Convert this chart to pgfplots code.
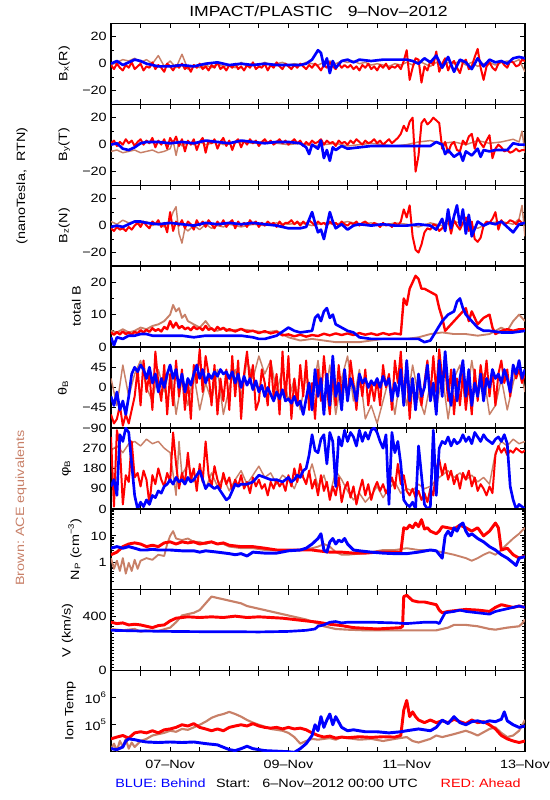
\documentclass[border=0pt]{standalone}
\usepackage{fontspec}
\setmainfont{Liberation Sans}[FakeStretch=1.2]
\usepackage{pgfplots}
\pgfplotsset{compat=1.18}
\definecolor{acebrown}{RGB}{200,128,104}
\tikzset{
 ace/.style={color=acebrown, line width=1.1pt, line join=round},
 ahead/.style={color=red, line width=1.5pt, line join=round},
 behind/.style={color=blue, line width=2pt, line join=round}
}
\pgfplotsset{
 yl/.style={ylabel style={at={(axis description cs:#1,0.5)}, anchor=center}},
 panel/.style={
   scale only axis, width=310.5pt, height=60.71pt, anchor=south west,
   xmin=0, xmax=7, xtick={0,0.5,...,7}, xticklabels={},
   tick align=inside, tick pos=both,
   axis line style={line width=0.9pt},
   every tick/.style={black, line width=0.7pt},
   major tick length=3.75pt, minor tick length=2.25pt,
   ylabel style={font=\fontsize{9}{10}\selectfont, inner sep=1pt},
   yticklabel style={font=\fontsize{9}{10}\selectfont},
   xticklabel style={font=\fontsize{9}{10}\selectfont, yshift=-3pt},
   /pgf/number format/assume math mode=true,
   clip=true
 }
}
\begin{document}
\begin{tikzpicture}
\useasboundingbox (0,0) rectangle (412.5pt,600pt);
\fontsize{9}{10}\selectfont
% ---------- Bx
\begin{axis}[panel, at={(83.25pt,521.87pt)}, ymin=-30, ymax=30,
 ytick={-20,0,20}, yticklabels={−20,0,20}, minor ytick={-10,10},
 ylabel={B\textsubscript{x}(R)}, yl=-0.113]
\addplot[ace] coordinates {(0,-1)(0.1,1)(0.2,3)(0.3,2)(0.4,4)(0.5,1)(0.6,3)(0.7,0)(0.8,6)(0.9,-2)(1,2)(1.1,-3)(1.2,7)(1.3,-4)(1.4,-1)(1.5,-3)(1.6,-1)(1.7,-3)(1.8,0)(1.9,-2)(2,-1)(2.1,-3)(2.2,1)(2.3,-2)(2.4,0)(2.5,-1)(2.6,1)(2.7,-1)(2.8,0)(2.9,1)(3,-1)(3.1,0)(3.2,-1)(3.3,1)(3.4,0)(3.5,-1)(3.6,1)(3.7,2)(3.8,0)(3.9,2)(4,1)(4.1,2)(4.2,0)(4.3,1)(4.4,-1)(4.5,0)(4.6,-1)(4.7,-2)(4.8,0)(4.9,-1)(5,1)(5.1,-1)(5.2,2)(5.3,0)(5.4,-2)(5.5,1)(5.6,-2)(5.7,1)(5.8,0)(5.9,2)(6,-1)(6.1,1)(6.2,-2)(6.3,0)(6.4,1)(6.5,-1)(6.6,1)(6.7,2)(6.8,1)(6.9,3)(7,-6)};
\addplot[ahead] coordinates {(0,-1)(0.05,-4)(0.1,0)(0.15,-3)(0.2,-5)(0.25,-1)(0.3,-3)(0.35,1)(0.4,-4)(0.45,-2)(0.5,0)(0.55,-5)(0.6,-2)(0.65,-3)(0.7,1)(0.75,-4)(0.8,-1)(0.85,-3)(0.9,-6)(0.95,0)(1,-2)(1.05,-5)(1.1,-1)(1.15,-3)(1.2,0)(1.25,-4)(1.3,-2)(1.35,-6)(1.4,-1)(1.45,-3)(1.5,0)(1.55,-4)(1.6,-2)(1.65,-5)(1.7,-1)(1.75,-3)(1.8,1)(1.85,-4)(1.9,-2)(1.95,-5)(2,-1)(2.05,-3)(2.1,0)(2.15,-4)(2.2,-2)(2.25,-5)(2.3,-1)(2.35,-3)(2.4,1)(2.45,-4)(2.5,-2)(2.55,-3)(2.6,0)(2.65,-5)(2.7,-1)(2.75,-3)(2.8,1)(2.85,-2)(2.9,-4)(2.95,0)(3,-2)(3.05,-4)(3.1,-1)(3.15,-3)(3.2,0)(3.25,-2)(3.3,-4)(3.35,-1)(3.4,-3)(3.45,0)(3.5,-2)(3.55,-5)(3.6,-1)(3.65,-3)(3.7,1)(3.75,-2)(3.8,-4)(3.85,0)(3.9,-3)(3.95,-1)(4,-3)(4.05,-1)(4.1,-4)(4.15,-2)(4.2,-5)(4.25,-1)(4.3,-3)(4.35,0)(4.4,-4)(4.45,-2)(4.5,-5)(4.55,-1)(4.6,-3)(4.65,0)(4.7,-4)(4.75,-2)(4.8,-3)(4.85,-1)(4.9,-4)(4.95,2)(5,10)(5.05,-12)(5.1,-3)(5.15,4)(5.2,3)(5.25,-14)(5.3,-2)(5.35,-5)(5.4,2)(5.45,-1)(5.5,9)(5.55,-6)(5.6,0)(5.65,4)(5.7,-5)(5.75,0)(5.8,2)(5.85,-3)(5.9,-7)(5.95,1)(6,3)(6.05,-4)(6.1,-2)(6.15,5)(6.2,11)(6.25,-3)(6.3,-12)(6.35,-2)(6.4,1)(6.45,-3)(6.5,-5)(6.55,0)(6.6,2)(6.65,-1)(6.7,-3)(6.75,2)(6.8,1)(6.85,-2)(6.9,-1)(6.95,3)(7,2)};
\addplot[behind] coordinates {(0,0)(0.1,2)(0.2,-1)(0.3,1)(0.4,3)(0.5,2)(0.6,0)(0.7,-1)(0.8,-2)(0.9,-2)(1,-2)(1.2,-1)(1.4,-2)(1.6,0)(1.8,1)(2,-1)(2.2,0)(2.4,-1)(2.6,0)(2.8,-1)(3,-1)(3.2,-1)(3.3,0)(3.4,3)(3.5,10)(3.55,8)(3.6,-2)(3.65,4)(3.7,-7)(3.75,2)(3.8,-3)(3.9,2)(4,3)(4.1,1)(4.2,3)(4.4,2)(4.6,3)(4.8,3)(5,3)(5.1,2)(5.2,0)(5.3,4)(5.4,1)(5.5,6)(5.6,-3)(5.7,5)(5.8,-6)(5.9,3)(6,1)(6.1,-4)(6.2,4)(6.3,-2)(6.4,3)(6.5,1)(6.6,2)(6.7,0)(6.8,4)(6.9,5)(7,4)};
\end{axis}
% ---------- By
\begin{axis}[panel, at={(83.25pt,461.16pt)}, ymin=-30, ymax=30,
 ytick={-20,0,20}, yticklabels={−20,0,20}, minor ytick={-10,10},
 ylabel={B\textsubscript{y}(T)}, yl=-0.113]
\addplot[ace] coordinates {(0,-5)(0.1,-4)(0.2,-6)(0.3,-5)(0.4,-4)(0.5,-6)(0.6,-5)(0.7,-4)(0.8,-6)(0.9,-5)(1,-3)(1.05,3)(1.1,-8)(1.15,2)(1.2,-1)(1.3,2)(1.4,0)(1.5,2)(1.6,0)(1.7,1)(1.8,2)(1.9,0)(2,1)(2.2,2)(2.4,1)(2.6,2)(2.8,1)(3,0)(3.2,1)(3.4,-1)(3.6,0)(3.8,1)(4,-1)(4.2,0)(4.4,1)(4.6,0)(4.8,-1)(5,0)(5.2,2)(5.4,3)(5.6,1)(5.8,2)(6,0)(6.2,3)(6.4,1)(6.6,2)(6.8,4)(6.9,2)(6.95,10)(7,-6)};
\addplot[ahead] coordinates {(0,1)(0.05,3)(0.1,-1)(0.15,2)(0.2,0)(0.25,4)(0.3,1)(0.35,3)(0.4,-1)(0.45,2)(0.5,4)(0.55,0)(0.6,3)(0.65,1)(0.7,5)(0.75,-2)(0.8,3)(0.85,0)(0.9,4)(0.95,-3)(1,5)(1.05,1)(1.1,6)(1.15,-1)(1.2,4)(1.25,-5)(1.3,3)(1.35,0)(1.4,4)(1.45,-4)(1.5,2)(1.55,5)(1.6,-6)(1.65,3)(1.7,1)(1.75,4)(1.8,-3)(1.85,2)(1.9,5)(1.95,-1)(2,3)(2.05,-4)(2.1,2)(2.15,4)(2.2,-2)(2.25,3)(2.3,0)(2.35,4)(2.4,1)(2.45,3)(2.5,-1)(2.55,2)(2.6,4)(2.65,1)(2.7,3)(2.75,0)(2.8,2)(2.85,4)(2.9,1)(2.95,3)(3,0)(3.05,2)(3.1,4)(3.15,1)(3.2,3)(3.25,-1)(3.3,2)(3.35,0)(3.4,3)(3.45,1)(3.5,2)(3.55,4)(3.6,0)(3.65,3)(3.7,1)(3.75,2)(3.8,-1)(3.85,3)(3.9,1)(3.95,2)(4,0)(4.05,3)(4.1,1)(4.15,4)(4.2,2)(4.25,0)(4.3,3)(4.35,1)(4.4,2)(4.45,4)(4.5,1)(4.55,3)(4.6,0)(4.65,2)(4.7,4)(4.75,1)(4.8,3)(4.85,5)(4.9,8)(4.95,14)(5,10)(5.05,17)(5.1,20)(5.15,-20)(5.2,-8)(5.25,16)(5.3,19)(5.35,15)(5.4,17)(5.45,20)(5.5,18)(5.55,16)(5.6,-3)(5.65,2)(5.7,-6)(5.75,0)(5.8,2)(5.85,-4)(5.9,-5)(5.95,3)(6,0)(6.05,6)(6.1,8)(6.15,-3)(6.2,5)(6.25,1)(6.3,-2)(6.35,3)(6.4,7)(6.45,-10)(6.5,-3)(6.55,0)(6.6,-2)(6.65,-5)(6.7,-4)(6.75,-6)(6.8,-5)(6.85,-3)(6.9,-5)(6.95,-4)(7,-4)};
\addplot[behind] coordinates {(0,0)(0.1,1)(0.2,-3)(0.3,-4)(0.4,-2)(0.5,1)(0.6,2)(0.8,2)(1,1)(1.2,2)(1.4,1)(1.6,3)(1.8,2)(2,1)(2.2,3)(2.4,2)(2.6,1)(2.8,2)(3,2)(3.2,1)(3.3,-2)(3.35,-7)(3.4,0)(3.5,-3)(3.55,3)(3.6,-10)(3.65,-4)(3.7,-12)(3.75,-2)(3.8,-4)(3.9,-1)(4,-3)(4.2,-2)(4.4,-1)(4.6,-1)(4.8,-1)(5,-1)(5.2,-1)(5.4,-1)(5.5,2)(5.6,0)(5.65,-7)(5.7,-4)(5.8,-9)(5.9,-6)(5.95,-12)(6,-5)(6.1,-8)(6.2,-3)(6.25,-9)(6.3,-4)(6.4,-5)(6.5,-4)(6.6,-4)(6.7,-4)(6.8,1)(6.9,0)(7,0)};
\end{axis}
% ---------- Bz
\begin{axis}[panel, at={(83.25pt,400.45pt)}, ymin=-30, ymax=30,
 ytick={-20,0,20}, yticklabels={−20,0,20}, minor ytick={-10,10},
 ylabel={B\textsubscript{z}(N)}, yl=-0.113]
\addplot[ace] coordinates {(0,3)(0.1,1)(0.2,4)(0.3,2)(0.4,3)(0.5,1)(0.6,3)(0.7,0)(0.8,2)(0.9,-1)(1,4)(1.05,10)(1.1,14)(1.15,-6)(1.2,-13)(1.25,-2)(1.3,-4)(1.4,0)(1.5,-3)(1.6,1)(1.7,-2)(1.8,0)(1.9,-1)(2,1)(2.2,-1)(2.4,1)(2.6,0)(2.8,2)(3,1)(3.2,2)(3.4,0)(3.6,2)(3.8,1)(4,3)(4.2,1)(4.4,2)(4.6,0)(4.8,2)(5,1)(5.2,-1)(5.4,2)(5.6,0)(5.8,3)(6,1)(6.2,-2)(6.4,2)(6.6,3)(6.8,1)(6.9,5)(6.95,15)(7,-8)};
\addplot[ahead] coordinates {(0,-2)(0.05,-4)(0.1,-1)(0.15,-3)(0.2,-2)(0.25,-4)(0.3,-1)(0.35,-3)(0.4,0)(0.45,2)(0.5,-1)(0.55,3)(0.6,0)(0.65,-2)(0.7,3)(0.75,1)(0.8,4)(0.85,-1)(0.9,2)(0.95,-5)(1,10)(1.05,-4)(1.1,3)(1.15,0)(1.2,4)(1.25,-2)(1.3,3)(1.35,1)(1.4,-3)(1.45,4)(1.5,0)(1.55,3)(1.6,-1)(1.65,4)(1.7,1)(1.75,-2)(1.8,3)(1.85,0)(1.9,4)(1.95,-1)(2,2)(2.05,4)(2.1,-2)(2.15,3)(2.2,0)(2.25,2)(2.3,-1)(2.35,4)(2.4,1)(2.45,3)(2.5,-1)(2.55,2)(2.6,0)(2.65,3)(2.7,1)(2.75,2)(2.8,-1)(2.85,3)(2.9,0)(2.95,2)(3,2)(3.05,4)(3.1,1)(3.15,3)(3.2,0)(3.25,3)(3.3,1)(3.35,4)(3.4,2)(3.45,0)(3.5,3)(3.55,1)(3.6,2)(3.65,0)(3.7,3)(3.75,1)(3.8,2)(3.85,0)(3.9,3)(3.95,1)(4,0)(4.05,2)(4.1,1)(4.15,3)(4.2,0)(4.25,2)(4.3,3)(4.35,1)(4.4,0)(4.45,2)(4.5,1)(4.55,-1)(4.6,2)(4.65,0)(4.7,1)(4.75,-1)(4.8,2)(4.85,0)(4.9,3)(4.95,12)(5,6)(5.05,15)(5.1,-8)(5.15,-18)(5.2,-20)(5.25,-14)(5.3,-5)(5.35,-2)(5.4,-3)(5.45,1)(5.5,0)(5.55,-4)(5.6,-2)(5.65,2)(5.7,5)(5.75,-6)(5.8,4)(5.85,0)(5.9,-3)(5.95,2)(6,6)(6.05,-4)(6.1,3)(6.15,-10)(6.2,-12)(6.25,-9)(6.3,0)(6.35,3)(6.4,2)(6.45,5)(6.5,10)(6.55,-3)(6.6,4)(6.65,1)(6.7,2)(6.75,4)(6.8,3)(6.85,1)(6.9,4)(6.95,2)(7,2)};
\addplot[behind] coordinates {(0,-1)(0.1,0)(0.2,-1)(0.3,1)(0.4,3)(0.5,3)(0.6,2)(0.8,1)(1,2)(1.2,1)(1.4,0)(1.6,2)(1.8,1)(2,2)(2.2,1)(2.4,2)(2.6,1)(2.8,0)(3,-2)(3.2,-2)(3.3,-1)(3.4,10)(3.45,2)(3.5,-5)(3.55,-3)(3.6,-10)(3.65,0)(3.7,10)(3.75,3)(3.8,-2)(3.9,1)(4,-3)(4.1,0)(4.2,1)(4.4,0)(4.6,1)(4.8,0)(5,0)(5.2,1)(5.4,0)(5.5,-3)(5.6,5)(5.65,-4)(5.7,12)(5.75,-2)(5.8,7)(5.85,15)(5.9,0)(5.95,12)(6,-6)(6.05,8)(6.1,-8)(6.2,3)(6.3,0)(6.4,2)(6.5,1)(6.6,3)(6.7,-1)(6.8,-5)(6.9,1)(7,2)};
\end{axis}
% ---------- total B
\begin{axis}[panel, at={(83.25pt,339.74pt)}, ymin=0, ymax=25,
 ytick={0,10,20}, yticklabels={0,10,20}, minor ytick={5,15},
 ylabel={total B}, yl=-0.084]
\addplot[ace, line width=1.4pt] coordinates {(0,5)(0.1,4.5)(0.2,5.5)(0.3,4.5)(0.4,5)(0.5,6)(0.6,5.5)(0.7,6.5)(0.8,7)(0.9,8)(1,10)(1.05,13)(1.1,11)(1.15,12)(1.2,9)(1.25,10)(1.3,8)(1.4,7)(1.5,6)(1.6,8)(1.7,5.5)(1.8,5)(1.9,6)(2,5)(2.2,5.5)(2.4,5)(2.6,4.5)(2.8,5)(3,3)(3.2,2)(3.4,2.5)(3.6,2)(3.8,1.5)(4,1.5)(4.2,1.5)(4.4,2)(4.6,2.5)(4.8,2.5)(5,2.5)(5.2,3)(5.4,4)(5.6,4.5)(5.8,4)(6,4)(6.2,3.5)(6.4,4)(6.6,6)(6.7,5)(6.8,8)(6.9,10)(7,8)};
\addplot[ahead, line width=1.8pt] coordinates {(0,4.5)(0.05,3.8)(0.1,4.6)(0.15,3.9)(0.2,4.8)(0.25,4)(0.3,4.5)(0.35,3.8)(0.4,4.7)(0.45,4.2)(0.5,5.2)(0.55,4.5)(0.6,5.3)(0.65,4.7)(0.7,5.8)(0.75,5)(0.8,5.5)(0.85,4.8)(0.9,6.2)(0.95,5.5)(1,8)(1.05,6)(1.1,7.5)(1.15,5.8)(1.2,6.5)(1.25,5.5)(1.3,6)(1.35,5.2)(1.4,6.3)(1.45,5.5)(1.5,6)(1.55,5.2)(1.6,6.5)(1.65,5.3)(1.7,5.8)(1.75,5)(1.8,6.2)(1.85,5.4)(1.9,5.9)(1.95,5)(2,5.5)(2.1,4.8)(2.2,5.6)(2.3,4.7)(2.4,5)(2.5,4.3)(2.6,4.9)(2.7,4.2)(2.8,4.7)(2.9,3.6)(3,3.9)(3.1,3.3)(3.2,3.8)(3.3,3.2)(3.4,3.7)(3.5,3.4)(3.6,4.1)(3.7,3.6)(3.8,4.2)(3.9,3.7)(4,4.2)(4.1,3.7)(4.2,4.3)(4.3,3.8)(4.4,4.2)(4.5,3.7)(4.6,4.3)(4.7,3.8)(4.8,4.2)(4.9,3.9)(4.95,15)(5,13)(5.05,18)(5.1,20)(5.15,22)(5.2,21)(5.25,18)(5.3,18)(5.4,17)(5.5,16)(5.55,12)(5.6,9)(5.65,5)(5.7,6)(5.8,8)(5.9,10)(6,12)(6.05,8)(6.1,11)(6.2,7)(6.3,9)(6.4,10)(6.45,6)(6.5,4)(6.6,5)(6.7,5.5)(6.8,5)(6.9,5.5)(7,5.5)};
\addplot[behind] coordinates {(0,3)(0.05,0.5)(0.1,3)(0.2,2.5)(0.3,3.5)(0.4,3.5)(0.5,4)(0.6,4)(0.7,3.5)(0.8,3.5)(1,3.5)(1.2,3.5)(1.4,3)(1.6,3.5)(1.8,3.5)(2,3.5)(2.2,3.5)(2.4,3)(2.5,2.5)(2.6,2.5)(2.8,3.5)(3,6)(3.1,5)(3.2,4.5)(3.4,5)(3.45,9)(3.5,10)(3.55,8)(3.6,11)(3.65,12)(3.7,9)(3.75,10)(3.8,7)(3.9,6)(4,5)(4.1,4.5)(4.2,3)(4.4,2.5)(4.6,2.5)(4.8,2.5)(5,2.5)(5.2,2.5)(5.3,1.5)(5.4,2)(5.5,5)(5.6,8)(5.7,10)(5.8,11)(5.85,14)(5.9,15)(5.95,12)(6,10)(6.1,8)(6.2,6)(6.3,5)(6.4,5)(6.6,4.5)(6.8,4.5)(7,5)};
\end{axis}
% ---------- theta
\begin{axis}[panel, at={(83.25pt,279.03pt)}, ymin=-90, ymax=90,
 ytick={-90,-45,0,45,90}, yticklabels={−90,−45,0,45,}, minor ytick={},
 ylabel={θ\textsubscript{B}}, yl=-0.116]
\addplot[ace] coordinates {(0,20)(0.1,-40)(0.2,50)(0.3,-20)(0.4,30)(0.5,60)(0.6,0)(0.7,-30)(0.8,40)(0.9,-10)(1,50)(1.1,-60)(1.2,20)(1.3,-40)(1.4,30)(1.5,-50)(1.6,10)(1.7,-30)(1.8,40)(1.9,-60)(2,0)(2.1,40)(2.2,-20)(2.3,60)(2.4,20)(2.5,70)(2.6,30)(2.7,60)(2.8,-10)(2.9,40)(3,-30)(3.1,20)(3.2,-50)(3.3,30)(3.4,-20)(3.5,60)(3.6,-40)(3.7,50)(3.8,-60)(3.9,20)(4,70)(4.1,-30)(4.2,40)(4.3,-70)(4.4,-40)(4.5,-80)(4.6,-30)(4.7,20)(4.8,-60)(4.9,30)(5,-40)(5.1,50)(5.2,-20)(5.3,-60)(5.4,10)(5.5,-50)(5.6,30)(5.7,-70)(5.8,20)(5.9,50)(6,-40)(6.1,60)(6.2,-20)(6.3,30)(6.4,-60)(6.5,-40)(6.6,20)(6.7,-50)(6.8,10)(6.9,60)(7,-10)};
\addplot[ahead] coordinates {(0,-60)(0.05,-80)(0.1,-70)(0.15,-40)(0.2,-85)(0.25,-60)(0.3,-80)(0.35,-50)(0.4,-20)(0.45,40)(0.5,-40)(0.55,60)(0.6,-10)(0.65,30)(0.7,-50)(0.75,80)(0.8,10)(0.85,-30)(0.9,50)(0.95,-60)(1,30)(1.05,-40)(1.1,60)(1.15,-20)(1.2,40)(1.25,-50)(1.3,20)(1.35,-70)(1.4,50)(1.45,10)(1.5,85)(1.55,-10)(1.6,70)(1.65,30)(1.7,-40)(1.75,50)(1.8,-60)(1.85,20)(1.9,-30)(1.95,40)(2,-50)(2.05,70)(2.1,-20)(2.15,60)(2.2,-70)(2.25,30)(2.3,80)(2.35,10)(2.4,50)(2.45,-50)(2.5,-30)(2.55,40)(2.6,10)(2.65,-40)(2.7,60)(2.75,-20)(2.8,30)(2.85,-60)(2.9,80)(2.95,-30)(3,70)(3.05,-70)(3.1,20)(3.15,-40)(3.2,50)(3.25,-20)(3.3,60)(3.35,-50)(3.4,10)(3.45,-70)(3.5,40)(3.55,-30)(3.6,70)(3.65,0)(3.7,-60)(3.75,30)(3.8,-40)(3.85,50)(3.9,-20)(3.95,40)(4,-30)(4.05,60)(4.1,10)(4.15,-50)(4.2,30)(4.25,-20)(4.3,40)(4.35,-40)(4.4,10)(4.45,-30)(4.5,20)(4.55,-40)(4.6,50)(4.65,0)(4.7,30)(4.75,-50)(4.8,60)(4.85,10)(4.9,80)(4.95,-30)(5,50)(5.05,-70)(5.1,20)(5.15,-50)(5.2,30)(5.25,-40)(5.3,10)(5.35,60)(5.4,-20)(5.45,70)(5.5,-10)(5.55,85)(5.6,20)(5.65,50)(5.7,-30)(5.75,40)(5.8,-60)(5.85,20)(5.9,-40)(5.95,30)(6,-50)(6.05,10)(6.1,-60)(6.15,40)(6.2,-30)(6.25,50)(6.3,0)(6.35,60)(6.4,-20)(6.45,40)(6.5,-40)(6.55,30)(6.6,60)(6.65,10)(6.7,40)(6.75,-20)(6.8,50)(6.85,20)(6.9,40)(6.95,10)(7,30)};
\addplot[behind] coordinates {(0,-20)(0.05,-40)(0.1,-10)(0.15,-50)(0.2,-30)(0.25,-60)(0.3,-20)(0.35,30)(0.4,45)(0.45,35)(0.5,50)(0.55,40)(0.6,20)(0.65,45)(0.7,10)(0.75,30)(0.8,-10)(0.85,20)(0.9,0)(0.95,30)(1,50)(1.05,20)(1.1,40)(1.15,0)(1.2,30)(1.25,-10)(1.3,20)(1.35,5)(1.4,30)(1.45,50)(1.5,20)(1.55,40)(1.6,10)(1.65,30)(1.7,20)(1.75,35)(1.8,25)(1.85,40)(1.9,30)(1.95,35)(2,20)(2.05,35)(2.1,10)(2.15,30)(2.2,0)(2.25,25)(2.3,5)(2.35,20)(2.4,-5)(2.45,15)(2.5,-10)(2.55,5)(2.6,-20)(2.65,0)(2.7,-15)(2.75,-30)(2.8,-10)(2.85,-25)(2.9,-5)(2.95,-30)(3,-25)(3.05,-35)(3.1,-20)(3.15,-40)(3.2,-30)(3.25,-60)(3.3,-25)(3.35,10)(3.4,-50)(3.45,40)(3.5,-20)(3.55,20)(3.6,-60)(3.65,30)(3.7,-40)(3.75,70)(3.8,-20)(3.85,10)(3.9,-50)(3.95,40)(4,-30)(4.05,20)(4.1,0)(4.15,-30)(4.2,30)(4.25,10)(4.3,20)(4.35,0)(4.4,15)(4.45,5)(4.5,20)(4.55,0)(4.6,25)(4.65,5)(4.7,20)(4.75,-30)(4.8,10)(4.85,-20)(4.9,40)(4.95,-40)(5,60)(5.05,-30)(5.1,20)(5.15,-50)(5.2,30)(5.25,-20)(5.3,0)(5.35,50)(5.4,-30)(5.45,10)(5.5,-60)(5.55,60)(5.6,-20)(5.65,80)(5.7,0)(5.75,-40)(5.8,40)(5.85,-30)(5.9,20)(5.95,60)(6,-20)(6.05,40)(6.1,-40)(6.15,10)(6.2,-20)(6.25,30)(6.3,-30)(6.35,20)(6.4,0)(6.45,40)(6.5,20)(6.55,30)(6.6,10)(6.65,40)(6.7,20)(6.75,-10)(6.8,50)(6.85,30)(6.9,60)(6.95,20)(7,40)};
\end{axis}
% ---------- phi
\begin{axis}[panel, at={(83.25pt,218.32pt)}, ymin=0, ymax=360,
 ytick={0,90,180,270,360}, yticklabels={0,90,180,270,}, minor ytick={},
 ylabel={φ\textsubscript{B}}, yl=-0.107]
\addplot[ace] coordinates {(0,260)(0.1,280)(0.2,250)(0.3,290)(0.4,300)(0.5,280)(0.6,310)(0.7,290)(0.8,300)(0.9,270)(1,250)(1.1,60)(1.15,300)(1.2,150)(1.3,200)(1.4,120)(1.5,180)(1.6,90)(1.7,160)(1.8,100)(1.9,140)(2,80)(2.1,130)(2.2,170)(2.3,110)(2.4,150)(2.5,190)(2.6,140)(2.7,160)(2.8,110)(2.9,150)(3,130)(3.1,90)(3.2,160)(3.3,120)(3.4,200)(3.5,100)(3.6,150)(3.7,60)(3.8,170)(3.9,130)(4,80)(4.1,40)(4.2,70)(4.3,30)(4.4,60)(4.5,100)(4.6,50)(4.7,90)(4.8,120)(4.9,70)(5,90)(5.1,80)(5.2,110)(5.3,90)(5.4,100)(5.5,130)(5.6,150)(5.7,170)(5.8,140)(5.9,160)(6,130)(6.1,150)(6.2,120)(6.3,140)(6.4,110)(6.5,250)(6.6,300)(6.7,280)(6.8,310)(6.9,290)(7,300)};
\addplot[ahead] coordinates {(0,320)(0.05,10)(0.1,350)(0.15,280)(0.2,20)(0.25,150)(0.3,120)(0.35,300)(0.4,140)(0.45,160)(0.5,100)(0.55,170)(0.6,130)(0.65,20)(0.7,150)(0.75,110)(0.8,180)(0.85,130)(0.9,100)(0.95,160)(1,120)(1.05,340)(1.1,200)(1.15,90)(1.2,160)(1.25,110)(1.3,250)(1.35,130)(1.4,180)(1.45,80)(1.5,200)(1.55,120)(1.6,300)(1.65,150)(1.7,100)(1.75,190)(1.8,130)(1.85,90)(1.9,160)(1.95,110)(2,140)(2.05,80)(2.1,130)(2.15,100)(2.2,150)(2.25,90)(2.3,120)(2.35,70)(2.4,140)(2.45,100)(2.5,130)(2.55,90)(2.6,110)(2.65,60)(2.7,120)(2.75,90)(2.8,130)(2.85,100)(2.9,120)(2.95,80)(3,150)(3.05,100)(3.1,180)(3.15,120)(3.2,200)(3.25,140)(3.3,110)(3.35,170)(3.4,90)(3.45,130)(3.5,60)(3.55,150)(3.6,80)(3.65,120)(3.7,40)(3.75,100)(3.8,60)(3.85,140)(3.9,30)(3.95,90)(4,120)(4.05,50)(4.1,100)(4.15,20)(4.2,80)(4.25,130)(4.3,60)(4.35,110)(4.4,40)(4.45,90)(4.5,120)(4.55,80)(4.6,110)(4.65,70)(4.7,100)(4.75,140)(4.8,90)(4.85,200)(4.9,110)(4.95,150)(5,80)(5.05,60)(5.1,90)(5.15,50)(5.2,80)(5.25,40)(5.3,70)(5.35,30)(5.4,90)(5.45,60)(5.5,180)(5.55,220)(5.6,150)(5.65,200)(5.7,130)(5.75,170)(5.8,110)(5.85,150)(5.9,90)(5.95,160)(6,130)(6.05,170)(6.1,100)(6.15,140)(6.2,80)(6.25,110)(6.3,90)(6.35,60)(6.4,100)(6.45,70)(6.5,240)(6.55,280)(6.6,250)(6.65,270)(6.7,240)(6.75,260)(6.8,250)(6.85,270)(6.9,260)(6.95,250)(7,260)};
\addplot[behind] coordinates {(0,100)(0.05,130)(0.1,60)(0.15,330)(0.2,300)(0.25,360)(0.3,340)(0.35,200)(0.4,60)(0.45,0)(0.5,30)(0.55,10)(0.6,40)(0.65,20)(0.7,60)(0.75,50)(0.8,80)(0.85,70)(0.9,100)(0.95,110)(1,130)(1.05,110)(1.1,140)(1.15,120)(1.2,130)(1.25,110)(1.3,140)(1.35,120)(1.4,130)(1.45,150)(1.5,170)(1.55,130)(1.6,90)(1.65,110)(1.7,100)(1.75,90)(1.8,100)(1.85,80)(1.9,60)(1.95,40)(2,50)(2.05,80)(2.1,110)(2.15,100)(2.2,110)(2.3,110)(2.4,120)(2.5,150)(2.6,140)(2.7,130)(2.8,130)(2.9,120)(3,140)(3.05,120)(3.1,130)(3.15,150)(3.2,140)(3.25,170)(3.3,180)(3.35,240)(3.4,330)(3.45,260)(3.5,250)(3.55,310)(3.6,330)(3.65,200)(3.7,340)(3.75,300)(3.8,100)(3.85,320)(3.9,280)(3.95,350)(4,300)(4.05,340)(4.1,320)(4.15,280)(4.2,350)(4.25,300)(4.3,340)(4.35,310)(4.4,350)(4.45,360)(4.5,340)(4.55,300)(4.6,270)(4.65,330)(4.7,20)(4.75,340)(4.8,250)(4.85,300)(4.9,200)(4.95,40)(5,20)(5.05,10)(5.1,30)(5.15,0)(5.2,280)(5.25,150)(5.3,20)(5.35,0)(5.4,10)(5.45,350)(5.5,60)(5.55,270)(5.6,300)(5.65,290)(5.7,320)(5.75,280)(5.8,310)(5.85,290)(5.9,300)(5.95,330)(6,300)(6.05,320)(6.1,290)(6.15,340)(6.2,320)(6.25,300)(6.3,330)(6.35,310)(6.4,300)(6.45,290)(6.5,310)(6.55,320)(6.6,300)(6.65,330)(6.7,290)(6.75,100)(6.8,40)(6.85,0)(6.9,20)(6.95,10)(7,0)};
\end{axis}
% ---------- Np
\begin{axis}[panel, at={(83.25pt,157.61pt)}, ymode=log, ymin=0.1, ymax=100,
 ytick={0.1,1,10,100}, yticklabels={,1,10,},
 minor ytick={0.2,0.3,0.4,0.5,0.6,0.7,0.8,0.9,2,3,4,5,6,7,8,9,20,30,40,50,60,70,80,90},
 ylabel={N\textsubscript{P} (cm\textsuperscript{−3})}, yl=-0.087]
\addplot[ace, line width=1.4pt] coordinates {(0,1.5)(0.05,0.6)(0.1,1.2)(0.15,0.5)(0.2,1.5)(0.25,0.4)(0.3,1)(0.35,0.5)(0.4,1.3)(0.45,0.6)(0.5,1.2)(0.6,1.5)(0.7,1.3)(0.8,2)(0.9,1.8)(0.95,5)(1,10)(1.05,15)(1.1,8)(1.2,7)(1.3,8)(1.4,6)(1.5,6)(1.6,5)(1.7,6)(1.8,5)(1.9,5)(2,4)(2.2,3.5)(2.4,3.5)(2.6,3)(2.8,3)(3,3)(3.2,3)(3.4,3.5)(3.5,4)(3.6,5)(3.7,4)(3.8,2.5)(3.9,2)(4,2)(4.2,2.2)(4.4,2.5)(4.6,3)(4.8,3)(5,3.5)(5.2,3)(5.4,3)(5.6,2.5)(5.8,2)(6,1.5)(6.1,1.2)(6.2,1.5)(6.3,2)(6.4,2.5)(6.5,2)(6.6,3)(6.7,5)(6.8,8)(6.9,12)(7,20)};
\addplot[ahead, line width=2.2pt] coordinates {(0,2)(0.1,2.5)(0.2,4)(0.3,5)(0.4,5.5)(0.5,5)(0.6,4)(0.7,4.5)(0.8,4)(0.9,5.5)(1,6)(1.1,5)(1.2,6)(1.3,5.5)(1.4,6)(1.5,5)(1.6,5.5)(1.7,6)(1.8,5)(1.9,5.5)(2,4.5)(2.2,4)(2.4,4)(2.6,3.5)(2.8,3)(3,3)(3.2,3)(3.4,3)(3.5,2.8)(3.7,2.5)(3.9,2.5)(4.1,2.3)(4.3,2.3)(4.5,2.5)(4.7,2.5)(4.9,2.5)(4.95,20)(5,18)(5.05,25)(5.1,20)(5.15,30)(5.2,22)(5.25,40)(5.3,18)(5.35,20)(5.4,15)(5.5,12)(5.55,15)(5.6,22)(5.7,20)(5.8,18)(5.9,25)(6,20)(6.1,15)(6.2,20)(6.3,10)(6.4,15)(6.5,30)(6.55,20)(6.6,3)(6.7,3.5)(6.8,2)(6.9,1.5)(7,1.8)};
\addplot[behind, line width=2.2pt] coordinates {(0,3.5)(0.1,4)(0.2,3.5)(0.3,4)(0.4,3.5)(0.5,3)(0.6,3)(0.7,3.2)(0.8,3)(1,3)(1.2,2.8)(1.4,2.8)(1.5,2.5)(1.6,2.8)(1.8,2.5)(2,2.2)(2.1,2)(2.2,2.2)(2.3,1.8)(2.4,2.5)(2.6,2.3)(2.8,2.3)(3,2.8)(3.2,3)(3.3,3.5)(3.4,5)(3.5,8)(3.55,12)(3.6,3)(3.65,2.5)(3.7,6)(3.75,8)(3.8,5)(3.85,7)(3.9,6)(3.95,8)(4,5)(4.1,3)(4.2,2.8)(4.4,2.5)(4.6,2.3)(4.8,2.2)(5,2.2)(5.2,2.5)(5.4,3)(5.5,2.8)(5.6,1.5)(5.65,10)(5.7,15)(5.75,10)(5.8,20)(5.85,15)(5.9,25)(5.95,30)(6,15)(6.05,10)(6.1,12)(6.2,8)(6.3,6)(6.4,4)(6.5,3)(6.6,2)(6.7,1.5)(6.8,1)(6.85,0.8)(6.9,1.5)(7,1.7)};
\end{axis}
% ---------- V
\begin{axis}[panel, at={(83.25pt,96.90pt)}, ymin=0, ymax=600,
 ytick={0,400}, yticklabels={0,400}, minor ytick={0,25,...,600},
 ylabel={V (km/s)}, yl=-0.105]
\addplot[ace, line width=1.6pt] coordinates {(0,310)(0.2,300)(0.4,310)(0.5,290)(0.6,300)(0.8,295)(1,320)(1.1,360)(1.2,410)(1.3,420)(1.4,430)(1.5,450)(1.6,500)(1.7,550)(1.8,540)(1.9,530)(2,520)(2.1,510)(2.2,500)(2.3,480)(2.5,460)(2.7,440)(2.9,420)(3.1,400)(3.3,380)(3.5,350)(3.6,330)(3.8,310)(4,305)(4.3,300)(4.6,300)(4.9,300)(5.2,300)(5.5,300)(5.6,310)(5.7,320)(5.8,340)(6,340)(6.2,330)(6.4,310)(6.5,305)(6.7,320)(6.9,330)(6.95,350)(7,380)};
\addplot[ahead, line width=2.2pt] coordinates {(0,360)(0.1,350)(0.2,355)(0.3,340)(0.4,345)(0.5,340)(0.6,330)(0.7,320)(0.8,335)(0.9,340)(1,370)(1.1,390)(1.2,395)(1.3,400)(1.5,395)(1.7,400)(1.9,395)(2.1,405)(2.3,395)(2.5,400)(2.7,395)(2.9,390)(3.1,380)(3.3,370)(3.5,360)(3.7,345)(3.9,335)(4.1,320)(4.3,315)(4.5,310)(4.7,315)(4.9,320)(4.93,330)(4.95,550)(5,560)(5.1,520)(5.2,510)(5.3,510)(5.4,500)(5.5,490)(5.55,450)(5.6,430)(5.7,440)(5.8,445)(5.9,450)(6,455)(6.2,450)(6.4,440)(6.5,470)(6.6,490)(6.7,480)(6.8,470)(6.9,480)(7,470)};
\addplot[behind] coordinates {(0,300)(0.5,295)(1,292)(1.5,290)(2,290)(2.5,288)(3,292)(3.3,300)(3.45,310)(3.5,330)(3.6,340)(3.7,360)(3.8,365)(3.9,355)(4,360)(4.4,360)(4.8,355)(5,350)(5.3,360)(5.5,360)(5.55,350)(5.65,430)(5.8,440)(5.9,450)(6,440)(6.2,430)(6.4,420)(6.5,440)(6.6,450)(6.7,460)(6.8,470)(6.9,480)(7,470)};
\end{axis}
% ---------- Ion Temp
\begin{axis}[panel, at={(83.25pt,36.19pt)}, ymode=log, ymin=1e4, ymax=1e7,
 ytick={1e4,1e5,1e6,1e7}, yticklabels={,10\textsuperscript{5},10\textsuperscript{6},},
 minor ytick={}, yminorticks=false,
 xticklabels={,,07–Nov,,,,09–Nov,,,,11–Nov,,,,13–Nov},
 ylabel={Ion Temp}, yl=-0.098]
\addplot[ace, line width=1.6pt] coordinates {(0,1.2e4)(0.05,2e4)(0.1,1.1e4)(0.15,2.5e4)(0.2,1.5e4)(0.25,3e4)(0.3,1.3e4)(0.35,2.2e4)(0.4,1.5e4)(0.5,2.5e4)(0.6,3e4)(0.7,4e4)(0.8,4.5e4)(0.9,5e4)(1,6e4)(1.1,5.5e4)(1.2,7e4)(1.3,6.5e4)(1.4,8e4)(1.5,1e5)(1.6,1.3e5)(1.7,1.8e5)(1.8,2.2e5)(1.9,2.5e5)(2,3e5)(2.1,2.5e5)(2.2,2e5)(2.3,1.5e5)(2.4,1.2e5)(2.5,1e5)(2.6,8.5e4)(2.7,7e4)(2.8,6.5e4)(2.9,6e4)(3,5e4)(3.1,3.5e4)(3.2,2e4)(3.3,2.5e4)(3.4,3e4)(3.5,2.8e4)(3.6,3e4)(3.7,3.2e4)(3.8,2.8e4)(3.9,3.5e4)(4,3.2e4)(4.2,2.8e4)(4.4,3e4)(4.6,2.5e4)(4.8,3e4)(5,3.5e4)(5.1,2.5e4)(5.2,2.2e4)(5.4,3e4)(5.5,4e4)(5.6,3.5e4)(5.8,4.5e4)(6,6e4)(6.1,5e4)(6.2,4e4)(6.4,7e4)(6.5,8e4)(6.6,5e4)(6.7,3.5e4)(6.8,4e4)(6.9,6e4)(7,1.5e5)};
\addplot[ahead, line width=2.2pt] coordinates {(0,3e4)(0.1,3.5e4)(0.2,4e4)(0.3,3.2e4)(0.4,5e4)(0.5,5.5e4)(0.6,5e4)(0.7,6e4)(0.8,5e4)(0.9,6.5e4)(1,7e4)(1.1,8e4)(1.2,1e5)(1.3,9e4)(1.4,1.1e5)(1.5,8e4)(1.6,7e4)(1.7,6e4)(1.8,7e4)(1.9,6e4)(2,8e4)(2.1,9e4)(2.2,1e5)(2.3,9e4)(2.4,1.1e5)(2.5,9e4)(2.6,8e4)(2.7,7.5e4)(2.8,8e4)(2.9,7e4)(3,8e4)(3.1,7e4)(3.2,7.5e4)(3.3,6.5e4)(3.4,5e4)(3.5,4e4)(3.6,3.5e4)(3.7,3.8e4)(3.8,3.2e4)(3.9,3.5e4)(4,3.3e4)(4.2,3.6e4)(4.4,3.4e4)(4.6,3.6e4)(4.8,3.5e4)(4.9,4e4)(4.95,3.5e5)(5,8e5)(5.05,2e5)(5.1,3e5)(5.15,2e5)(5.2,1.5e5)(5.3,1.2e5)(5.4,1.5e5)(5.5,1.2e5)(5.6,1.4e5)(5.7,1.2e5)(5.8,1.6e5)(5.9,1.3e5)(6,1.1e5)(6.1,1.5e5)(6.2,1.2e5)(6.3,1.3e5)(6.4,1e5)(6.5,7e4)(6.6,4e4)(6.7,3e4)(6.8,2.5e4)(6.9,2.2e4)(7,2.5e4)};
\addplot[behind, line width=2.2pt] coordinates {(0,1.3e4)(0.1,1.2e4)(0.2,1.5e4)(0.25,2.5e4)(0.3,3e4)(0.4,2.8e4)(0.5,2.5e4)(0.6,2.3e4)(0.8,2.2e4)(1,2.3e4)(1.2,2.2e4)(1.4,2.3e4)(1.6,2e4)(1.8,1.8e4)(2,1.2e4)(2.1,1.1e4)(2.2,1.3e4)(2.3,1.6e4)(2.4,1.3e4)(2.6,1.1e4)(2.8,1.05e4)(3,1e4)(3.1,9.5e3)(3.2,1.3e4)(3.3,2e4)(3.4,4e4)(3.45,1e5)(3.5,6e4)(3.55,2e5)(3.6,8e4)(3.65,1.5e5)(3.7,2.5e5)(3.75,1e5)(3.8,2e5)(3.9,8e4)(4,6e4)(4.1,6.5e4)(4.3,5.5e4)(4.5,5.5e4)(4.7,5e4)(4.9,5.5e4)(5,6e4)(5.2,7e4)(5.4,6e4)(5.5,8e4)(5.6,1.5e5)(5.7,1.1e5)(5.8,2e5)(5.9,1.2e5)(6,1e5)(6.1,1.3e5)(6.2,1.4e5)(6.3,1.2e5)(6.4,1.4e5)(6.5,1.3e5)(6.6,1.6e5)(6.65,3e5)(6.7,1.4e5)(6.8,1e5)(6.9,8e4)(7,9e4)};
\end{axis}
% ---------- texts
\node[anchor=base west, font=\fontsize{11}{13}\selectfont] at (138.75pt,587.5pt) {IMPACT/PLASTIC};
\node[anchor=base east, font=\fontsize{11}{13}\selectfont] at (339pt,587.5pt) {9–Nov–2012};
\node[rotate=90, font=\fontsize{9}{10}\selectfont] at (16.5pt,460.5pt) {(nanoTesla,\ \ RTN)};
\node[rotate=90, text=acebrown, font=\fontsize{9}{10}\selectfont] at (15.75pt,219pt) {Brown:\ ACE\ equivalents};
\node[anchor=base west, text=blue, font=\fontsize{9}{10}\selectfont] at (83.25pt,9.2pt) {BLUE:\ Behind};
\node[anchor=base west, font=\fontsize{9}{10}\selectfont] at (158.8pt,9.2pt) {Start:\ \ \ 6–Nov–2012\ 00:00\ UTC};
\node[anchor=base east, text=red, font=\fontsize{9}{10}\selectfont] at (393.75pt,9.2pt) {RED:\ Ahead};
\end{tikzpicture}
\end{document}
